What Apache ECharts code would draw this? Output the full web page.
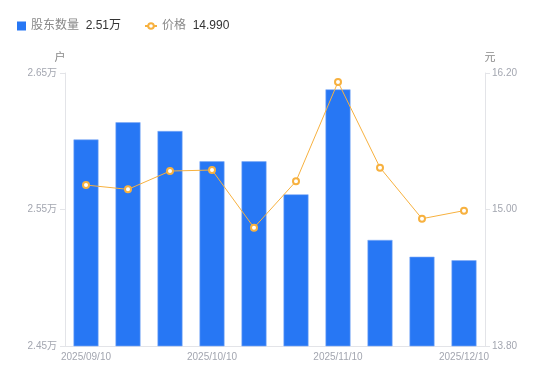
<!DOCTYPE html>
<html><head><meta charset="utf-8">
<script src="https://cdn.jsdelivr.net/npm/echarts@6/dist/echarts.min.js"></script>
<style>html,body{margin:0;padding:0;background:#fff}#c{width:550px;height:381px}</style>
</head><body><div id="c"></div>
<script>
const categories = ['2025/09/10','2025/09/20','2025/09/30','2025/10/10','2025/10/20','2025/10/31','2025/11/10','2025/11/20','2025/11/28','2025/12/10'];
const holders = [26013, 26139, 26075, 25853, 25853, 25611, 26380, 25277, 25154, 25128];
const prices = [15.215, 15.177, 15.338, 15.347, 14.840, 15.248, 16.121, 15.368, 14.919, 14.990];
const leftTicks = {min: 24500, max: 26500, interval: 1000};
const rightTicks = {min: 13.8, max: 16.2, interval: 1.2};

const chart = echarts.init(document.getElementById('c'));
const fontFamily = '"Liberation Sans", "Noto Sans CJK SC", sans-serif';
const axisLabelColor = '#a3a6b0';
chart.setOption({
  animation: false,
  textStyle: {fontFamily},
  legend: [{
    left: 12, top: 15, itemWidth: 9, itemHeight: 9, data: [{name: '股东数量', icon: 'rect', itemStyle: {borderWidth: 0}}],
    formatter: n => '{a|' + n + '}  {b|' + (holders[holders.length-1]/10000).toFixed(2) + '万}',
    textStyle: {rich: {a: {color: '#888', fontSize: 12, fontFamily}, b: {color: '#333', fontSize: 12, fontFamily}}}
  }, {
    left: 139, top: 15, itemWidth: 12, itemHeight: 7, data: ['价格'],
    formatter: n => '{a|' + n + '}  {b|' + prices[prices.length-1].toFixed(3) + '}',
    textStyle: {rich: {a: {color: '#888', fontSize: 12, fontFamily}, b: {color: '#333', fontSize: 12, fontFamily}}}
  }],
  grid: {left: 65, right: 65, top: 73, bottom: 35},
  xAxis: {
    type: 'category', data: categories,
    axisLine: {lineStyle: {color: '#e3e4e8'}},
    axisTick: {show: false},
    axisLabel: {color: axisLabelColor, fontSize: 10, interval: 2, margin: 6}
  },
  yAxis: [{
    type: 'value', name: '户', min: leftTicks.min, max: leftTicks.max, interval: leftTicks.interval,
    nameTextStyle: {color: '#888', fontSize: 11, padding: [0, 10, 0, 0]},
    nameGap: 10,
    axisLine: {show: true, lineStyle: {color: '#e3e4e8'}},
    axisTick: {show: true, length: 5, lineStyle: {color: '#e3e4e8'}},
    splitLine: {show: false},
    axisLabel: {color: axisLabelColor, fontSize: 10, margin: 8, formatter: v => (v/10000).toFixed(2) + '万'}
  }, {
    type: 'value', name: '元', min: rightTicks.min, max: rightTicks.max, interval: rightTicks.interval,
    nameTextStyle: {color: '#888', fontSize: 11, padding: [0, 0, 0, 10]},
    nameGap: 10,
    axisLine: {show: true, lineStyle: {color: '#e3e4e8'}},
    axisTick: {show: true, length: 5, lineStyle: {color: '#e3e4e8'}},
    splitLine: {show: false},
    axisLabel: {color: axisLabelColor, fontSize: 10, margin: 7, formatter: v => v.toFixed(2)}
  }],
  series: [{
    name: '股东数量', type: 'bar', data: holders, barWidth: 25, yAxisIndex: 0,
    itemStyle: {color: '#2777f4', borderColor: '#7fabf7', borderWidth: 0.6}
  }, {
    name: '价格', type: 'line', data: prices, yAxisIndex: 1,
    symbol: 'emptyCircle', symbolSize: 6,
    lineStyle: {color: '#f7b13f', width: 1},
    itemStyle: {color: '#f7b13f', borderWidth: 1.5}
  }]
});
</script></body></html>
